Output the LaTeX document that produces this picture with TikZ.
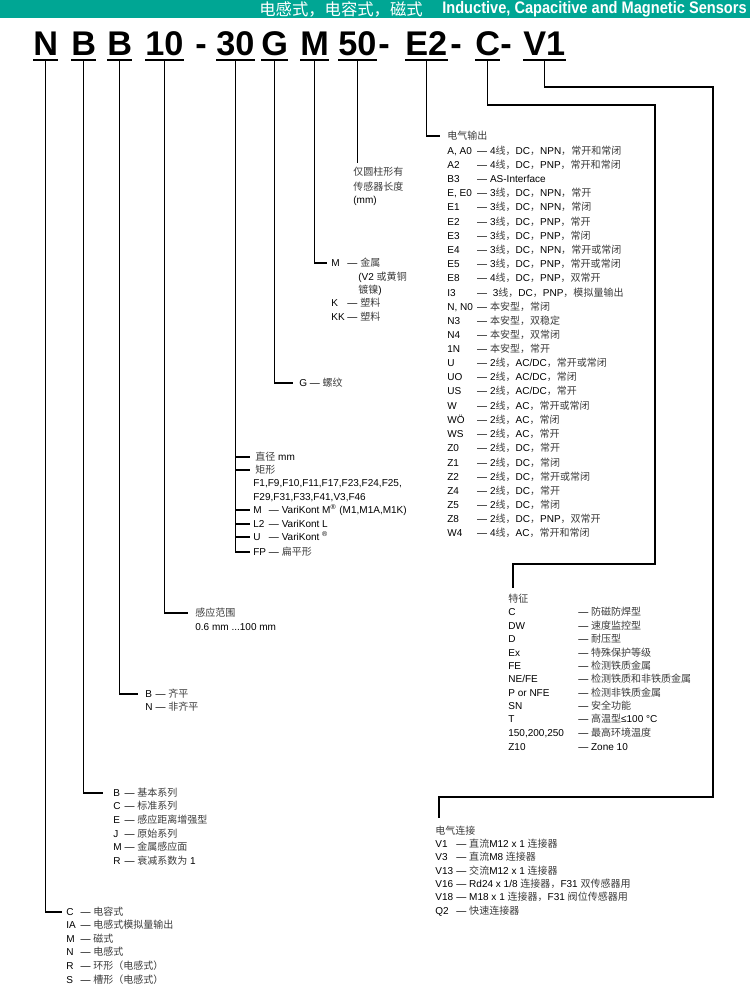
\documentclass[tikz,border=0pt]{standalone}
\usepackage{fontspec}
\setmainfont{Liberation Sans}
\newfontfamily\latinfont{Liberation Sans}
\newfontfamily\cjkfont[Scale=1.0,Color=3C3C3C]{Noto Sans CJK SC}
\newfontfamily\cjkhead[Color=FFFFFF]{Noto Sans CJK SC}
\newfontfamily\headfont[FakeStretch=0.875]{Liberation Sans}
\newfontfamily\codefont{Liberation Sans}
\definecolor{bandteal}{RGB}{0,166,148}

% switch to the CJK font for Chinese characters
\newXeTeXintercharclass\cjkclass
\makeatletter
\def\setcjkrange#1#2{\@tempcnta=#1\relax
  \loop\XeTeXcharclass\@tempcnta=\cjkclass
  \ifnum\@tempcnta<#2\relax\advance\@tempcnta\@ne\repeat}
\def\setlatinrange#1#2{\@tempcnta=#1\relax
  \loop\XeTeXcharclass\@tempcnta=0
  \ifnum\@tempcnta<#2\relax\advance\@tempcnta\@ne\repeat}
\makeatother
\setlatinrange{"0021}{"02FF}
\setlatinrange{"2000}{"206F}
\XeTeXcharclass"2264=0
\setcjkrange{"3000}{"303F}
\setcjkrange{"4E00}{"9FFF}
\setcjkrange{"FF00}{"FFEF}
\XeTeXinterchartoks 0 \cjkclass = {\cjkfont}
\XeTeXinterchartoks 4095 \cjkclass = {\cjkfont}
\XeTeXinterchartoks \cjkclass 0 = {\latinfont}
\XeTeXinterchartoks \cjkclass 4095 = {\latinfont}
\XeTeXinterchartokenstate=1

\newcommand\lab[2]{\makebox[#1][l]{#2}}

\tikzset{
  code/.style={anchor=base west, inner sep=0pt, text depth=2pt,
    font=\codefont\bfseries\fontsize{19.5}{20}\selectfont},
  row/.style={anchor=west, inner sep=0pt, text height=4.3pt, text depth=0.3pt,
    font=\latinfont\fontsize{5.7}{6.7}\selectfont},
  link/.style={line width=0.8pt},
  uline/.style={line width=1.2pt}
}

\begin{document}
\begin{tikzpicture}[x=0.02cm,y=-0.02cm]
\useasboundingbox (0,0) rectangle (750,986);

% header band
\fill[bandteal] (0,0) rectangle (750,18);
\node[anchor=west, inner sep=0pt, font={\XeTeXinterchartokenstate=0\relax\cjkhead\fontsize{9.3}{10}\selectfont}] (hzh) at (259,9) {电感式，电容式，磁式};
\node[anchor=east, inner sep=0pt, text=white, font=\headfont\bfseries\fontsize{9.5}{10}\selectfont] (hen) at (747,9) {Inductive, Capacitive and Magnetic Sensors};

% type code
\node[code] (n) at (33,56) {N};
\node[code] (b1) at (71,56) {B};
\node[code] (b2) at (107,56) {B};
\node[code] (ten) at (145,56) {10};
\node[code] (d1) at (195,56) {-};
\node[code] (thirty) at (216,56) {30};
\node[code] (g) at (261,56) {G};
\node[code] (m) at (300,56) {M};
\node[code] (fifty) at (338,56) {50};
\node[code] (d2) at (378,56) {-};
\node[code] (e2) at (405,56) {E2};
\node[code] (d3) at (450,56) {-};
\node[code] (c) at (475,56) {C};
\node[code] (d4) at (500,56) {-};
\node[code] (v1) at (523,56) {V1};
\foreach \k in {n,b1,b2,ten,thirty,g,m,fifty,e2,c,v1}
  \draw[uline] (\k.south west) -- (\k.south east);

% 50: length
\coordinate (fe) at (359,163);
\node[row] (la) at (353,172) {仅圆柱形有};
\node[row] (lb) at (353,187) {传感器长度};
\node[row] (lc) at (353,200) {(mm)};

% M: housing
\node[row] (rma) at (331,263) {\lab{7.6pt}{M} — 金属};
\node[row] (rmb) at (358,277) {(V2 或黄铜};
\node[row] (rmc) at (358,290) {镀镍)};
\node[row] (rmd) at (331,303) {\lab{7.6pt}{K} — 塑料};
\node[row] (rme) at (331,317) {\lab{7.6pt}{KK} — 塑料};

% G: thread
\node[row] (rg) at (299,383) {G — 螺纹};

% 30: housing size
\node[row] (r30a) at (255,457) {直径 mm};
\node[row] (r30b) at (255,470) {矩形};
\node[row] (r30c) at (253,483) {F1,F9,F10,F11,F17,F23,F24,F25,};
\node[row] (r30d) at (253,497) {F29,F31,F33,F41,V3,F46};
\node[row] (r30e) at (253,510) {\lab{7.3pt}{M} — VariKont M\textsuperscript{®} (M1,M1A,M1K)};
\node[row] (r30f) at (253,524) {\lab{7.3pt}{L2} — VariKont L};
\node[row] (r30g) at (253,537) {\lab{7.3pt}{U} — VariKont \textsuperscript{®}};
\node[row] (fp) at (253,552) {\lab{7.3pt}{FP} — 扁平形};

% 10: range
\node[row] (ta) at (195,613) {感应范围};
\node[row] (tb) at (195,627) {0.6 mm ...100 mm};

% B: mounting
\node[row] (b2b) at (145,694) {\lab{4.2pt}{B} — 齐平};
\node[row] (b2n) at (145,707) {\lab{4.2pt}{N} — 非齐平};

% B: series
\node[row] (bb) at (113,793) {\lab{4.8pt}{B} — 基本系列};
\node[row] (bc) at (113,806) {\lab{4.8pt}{C} — 标准系列};
\node[row] (be) at (113,820) {\lab{4.8pt}{E} — 感应距离增强型};
\node[row] (bj) at (113,834) {\lab{4.8pt}{J} — 原始系列};
\node[row] (bm) at (113,847) {\lab{4.8pt}{M} — 金属感应面};
\node[row] (br) at (113,861) {\lab{4.8pt}{R} — 衰减系数为 1};

% N: principle
\node[row] (nc) at (66,912) {\lab{6.5pt}{C} — 电容式};
\node[row] (nia) at (66,925) {\lab{6.5pt}{IA} — 电感式模拟量输出};
\node[row] (nm) at (66,939) {\lab{6.5pt}{M} — 磁式};
\node[row] (nn) at (66,952) {\lab{6.5pt}{N} — 电感式};
\node[row] (nr) at (66,966) {\lab{6.5pt}{R} — 环形（电感式）};
\node[row] (ns) at (66,980) {\lab{6.5pt}{S} — 槽形（电感式）};

% E2: output
\node[row] (eo) at (447,136) {电气输出};
\node[row] (ra0) at (447,151) {\lab{17pt}{A, A0}— 4线，DC，NPN，常开和常闭};
\node[row] (ra2) at (447,165) {\lab{17pt}{A2}— 4线，DC，PNP，常开和常闭};
\node[row] (rb3) at (447,179) {\lab{17pt}{B3}— AS-Interface};
\node[row] (re0) at (447,193) {\lab{17pt}{E, E0}— 3线，DC，NPN，常开};
\node[row] (re1) at (447,207) {\lab{17pt}{E1}— 3线，DC，NPN，常闭};
\node[row] (re2) at (447,222) {\lab{17pt}{E2}— 3线，DC，PNP，常开};
\node[row] (re3) at (447,236) {\lab{17pt}{E3}— 3线，DC，PNP，常闭};
\node[row] (re4) at (447,250) {\lab{17pt}{E4}— 3线，DC，NPN，常开或常闭};
\node[row] (re5) at (447,264) {\lab{17pt}{E5}— 3线，DC，PNP，常开或常闭};
\node[row] (re8) at (447,278) {\lab{17pt}{E8}— 4线，DC，PNP，双常开};
\node[row] (ri3) at (447,293) {\lab{17pt}{I3}—\ \ 3线，DC，PNP，模拟量输出};
\node[row] (rn0) at (447,307) {\lab{17pt}{N, N0}— 本安型，常闭};
\node[row] (rn3) at (447,321) {\lab{17pt}{N3}— 本安型，双稳定};
\node[row] (rn4) at (447,335) {\lab{17pt}{N4}— 本安型，双常闭};
\node[row] (r1n) at (447,349) {\lab{17pt}{1N}— 本安型，常开};
\node[row] (ru) at (447,363) {\lab{17pt}{U}— 2线，AC/DC，常开或常闭};
\node[row] (ruo) at (447,377) {\lab{17pt}{UO}— 2线，AC/DC，常闭};
\node[row] (rus) at (447,391) {\lab{17pt}{US}— 2线，AC/DC，常开};
\node[row] (rw) at (447,406) {\lab{17pt}{W}— 2线，AC，常开或常闭};
\node[row] (rwo) at (447,420) {\lab{17pt}{WÖ}— 2线，AC，常闭};
\node[row] (rws) at (447,434) {\lab{17pt}{WS}— 2线，AC，常开};
\node[row] (rz0) at (447,448) {\lab{17pt}{Z0}— 2线，DC，常开};
\node[row] (rz1) at (447,463) {\lab{17pt}{Z1}— 2线，DC，常闭};
\node[row] (rz2) at (447,477) {\lab{17pt}{Z2}— 2线，DC，常开或常闭};
\node[row] (rz4) at (447,491) {\lab{17pt}{Z4}— 2线，DC，常开};
\node[row] (rz5) at (447,505) {\lab{17pt}{Z5}— 2线，DC，常闭};
\node[row] (rz8) at (447,519) {\lab{17pt}{Z8}— 2线，DC，PNP，双常开};
\node[row] (rw4) at (447,533) {\lab{17pt}{W4}— 4线，AC，常开和常闭};

% C: features
\coordinate (cc1) at (655,105);
\coordinate (cc2) at (513,564);
\coordinate (cc3) at (513,588);
\node[row] (tz) at (508,599) {特征};
\node[row] (fc) at (508,612) {\lab{39.8pt}{C}— 防磁防焊型};
\node[row] (fdw) at (508,626) {\lab{39.8pt}{DW}— 速度监控型};
\node[row] (fd) at (508,639) {\lab{39.8pt}{D}— 耐压型};
\node[row] (fex) at (508,653) {\lab{39.8pt}{Ex}— 特殊保护等级};
\node[row] (ffe) at (508,666) {\lab{39.8pt}{FE}— 检测铁质金属};
\node[row] (fne) at (508,679) {\lab{39.8pt}{NE/FE}— 检测铁质和非铁质金属};
\node[row] (fp2) at (508,693) {\lab{39.8pt}{P or NFE}— 检测非铁质金属};
\node[row] (fsn) at (508,706) {\lab{39.8pt}{SN}— 安全功能};
\node[row] (ft) at (508,719) {\lab{39.8pt}{T}— 高温型≤100 °C};
\node[row] (ftemp) at (508,733) {\lab{39.8pt}{150,200,250}— 最高环境温度};
\node[row] (fz) at (508,747) {\lab{39.8pt}{Z10}— Zone 10};

% V1: connection
\coordinate (vc1) at (713,87);
\coordinate (vc2) at (439,797);
\coordinate (vc3) at (439,818);
\node[row] (vz) at (435,831) {电气连接};
\node[row] (va) at (435,844) {\lab{12pt}{V1}— 直流M12 x 1 连接器};
\node[row] (vb) at (435,857) {\lab{12pt}{V3}— 直流M8 连接器};
\node[row] (vc) at (435,871) {\lab{12pt}{V13}— 交流M12 x 1 连接器};
\node[row] (vd) at (435,884) {\lab{12pt}{V16}— Rd24 x 1/8 连接器，F31 双传感器用};
\node[row] (ve) at (435,897) {\lab{12pt}{V18}— M18 x 1 连接器，F31 阀位传感器用};
\node[row] (vf) at (435,911) {\lab{12pt}{Q2}— 快速连接器};

% connectors
\draw[link] (n.south) |- ([xshift=-2pt]nc.west);
\draw[link] (b1.south) |- ([xshift=-5.5pt]bb.west);
\draw[link] (b2.south) |- ([xshift=-4pt]b2b.west);
\draw[link] (ten.south) |- ([xshift=-4pt]ta.west);
\draw[link] (thirty.south) |- ([xshift=-1.5pt]fp.west);
\draw[link] (r30a.west -| thirty.south) -- ([xshift=-2.8pt]r30a.west);
\draw[link] (r30b.west -| thirty.south) -- ([xshift=-2.8pt]r30b.west);
\draw[link] (r30e.west -| thirty.south) -- ([xshift=-1.5pt]r30e.west);
\draw[link] (r30f.west -| thirty.south) -- ([xshift=-1.5pt]r30f.west);
\draw[link] (r30g.west -| thirty.south) -- ([xshift=-1.5pt]r30g.west);
\draw[link] (g.south) |- ([xshift=-3.4pt]rg.west);
\draw[link] (m.south) |- ([xshift=-2.3pt]rma.west);
\draw[link] (fifty.south) -- (fifty.south |- fe);
\draw[link] (e2.south) |- ([xshift=-4pt]eo.west);
\draw[link] (c.south) |- (cc1) |- (cc2) -- (cc3);
\draw[link] (v1.south) |- (vc1) |- (vc2) -- (vc3);
\end{tikzpicture}
\end{document}
